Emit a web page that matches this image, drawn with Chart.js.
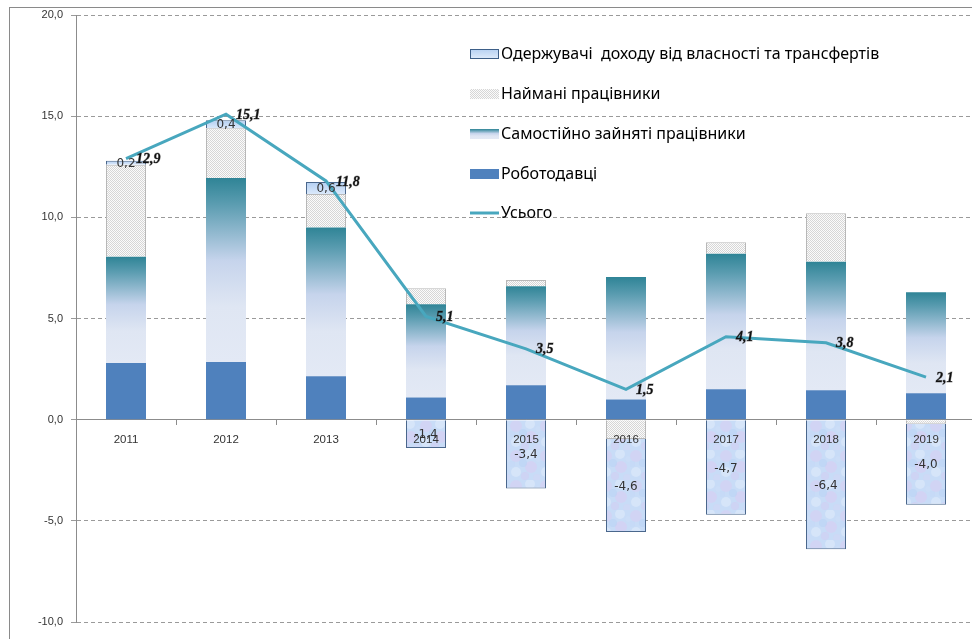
<!DOCTYPE html>
<html>
<head>
<meta charset="utf-8">
<script src="https://cdn.jsdelivr.net/npm/chart.js@4.4.1/dist/chart.umd.min.js"></script>
<style>
  html, body { margin: 0; padding: 0; background: #fff; overflow: hidden; }
  #wrap { position: relative; width: 972px; height: 639px; overflow: hidden; }
  #frame { position: absolute; left: 9px; top: 7px; width: 1000px; height: 700px; border: 1px solid #8a8a8a; pointer-events: none; }
  canvas { position: absolute; left: 0; top: 0; }
</style>
</head>
<body>
<div id="wrap">
  <canvas id="c" width="978" height="639"></canvas>
  <div id="frame"></div>
</div>
<script>
const years = ["2011", "2012", "2013", "2014", "2015", "2016", "2017", "2018", "2019"];
const employers = [2.8, 2.85, 2.15, 1.1, 1.7, 1.0, 1.5, 1.45, 1.3];
const selfEmployed = [5.25, 9.1, 7.35, 4.6, 4.9, 6.05, 6.7, 6.35, 5.0];
const hired = [4.55, 2.45, 1.65, 0.8, 0.3, -0.95, 0.57, 2.4, -0.2];
const propertyIncome = [0.2, 0.4, 0.6, -1.4, -3.4, -4.6, -4.7, -6.4, -4.0];
const total = [12.9, 15.1, 11.8, 5.1, 3.5, 1.5, 4.1, 3.8, 2.1];

const legendLabels = [
  "Одержувачі  доходу від власності та трансфертів",
  "Наймані працівники",
  "Самостійно зайняті працівники",
  "Роботодавці",
  "Усього",
];

const fmt = (v) => v.toFixed(1).replace(".", ",");

// dotted fill for hired workers
function makeHatch() {
  const c = document.createElement("canvas");
  c.width = 2;
  c.height = 2;
  const g = c.getContext("2d");
  g.fillStyle = "#fbfbfb";
  g.fillRect(0, 0, 2, 2);
  g.fillStyle = "#d6d6d6";
  g.fillRect(0, 0, 1, 1);
  g.fillRect(1, 1, 1, 1);
  return g.createPattern(c, "repeat");
}

// mottled light-blue texture for negative property bars
function makeBubbles() {
  const c = document.createElement("canvas");
  c.width = 30;
  c.height = 30;
  const g = c.getContext("2d");
  g.fillStyle = "#c8dcf7";
  g.fillRect(0, 0, 30, 30);
  const blobs = [
    [6, 6, 6, "rgba(216,206,242,0.55)"], [21, 17, 6, "rgba(218,204,242,0.55)"],
    [20, 4, 5, "rgba(226,236,252,0.55)"], [6, 22, 5, "rgba(226,236,252,0.55)"],
    [13, 13, 4, "rgba(184,210,245,0.5)"], [27, 28, 4, "rgba(212,214,245,0.5)"],
    [2, 14, 3, "rgba(196,216,247,0.5)"], [15, 26, 4, "rgba(212,204,242,0.5)"],
    [28, 9, 3, "rgba(206,222,248,0.5)"],
  ];
  blobs.forEach(([x, y, r, col]) => {
    g.fillStyle = col;
    g.beginPath();
    g.arc(x, y, r, 0, Math.PI * 2);
    g.fill();
  });
  return g.createPattern(c, "repeat");
}

const hatch = makeHatch();
const bubbles = makeBubbles();

function selfGradient(ctx2d, top, bottom) {
  const g = ctx2d.createLinearGradient(0, top, 0, bottom);
  g.addColorStop(0, "#2f8496");
  g.addColorStop(0.14, "#5a9cb0");
  g.addColorStop(0.45, "#c6d4ec");
  g.addColorStop(0.7, "#dfe6f3");
  g.addColorStop(1, "#e3e9f5");
  return g;
}

const labelPlugin = {
  id: "valueLabels",
  afterDatasetsDraw(chart) {
    const ctx = chart.ctx;
    ctx.save();
    const pm = chart.getDatasetMeta(3);
    ctx.font = '12px "DejaVu Sans", Verdana, sans-serif';
    ctx.fillStyle = "#333";
    ctx.textAlign = "center";
    ctx.textBaseline = "middle";
    pm.data.forEach((bar, i) => {
      ctx.fillText(fmt(propertyIncome[i]), bar.x, (bar.y + bar.base) / 2 + 1);
    });

    const lm = chart.getDatasetMeta(4);
    ctx.font = 'italic bold 14px "Liberation Serif", serif';
    ctx.fillStyle = "#111";
    ctx.strokeStyle = "rgba(60,60,60,0.5)";
    ctx.lineWidth = 0.8;
    ctx.textAlign = "left";
    lm.data.forEach((pt, i) => {
      ctx.strokeText(fmt(total[i]), pt.x + 10, pt.y + 1);
      ctx.fillText(fmt(total[i]), pt.x + 10, pt.y + 1);
    });
    ctx.restore();
  },
};

const legendPlugin = {
  id: "sideLegend",
  afterDraw(chart) {
    const ctx = chart.ctx;
    const ix = 470, iw = 29, ih = 10, tx = 501;
    const rows = [54, 94, 134, 174, 213];
    ctx.save();
    ctx.font = '16px "Noto Sans", sans-serif';
    ctx.textBaseline = "middle";
    rows.forEach((y, k) => {
      const top = y - ih / 2;
      if (k === 0) {
        const g = ctx.createLinearGradient(0, top, 0, top + ih);
        g.addColorStop(0, "#b5d0f2");
        g.addColorStop(1, "#e0ecfb");
        ctx.fillStyle = g;
        ctx.fillRect(ix, top, iw, ih);
        ctx.strokeStyle = "#3d5f88";
        ctx.lineWidth = 1;
        ctx.strokeRect(ix + 0.5, top + 0.5, iw - 1, ih - 1);
      } else if (k === 1) {
        ctx.fillStyle = hatch;
        ctx.fillRect(ix, top, iw, ih);
      } else if (k === 2) {
        ctx.fillStyle = selfGradient(ctx, top, top + ih);
        ctx.fillRect(ix, top, iw, ih);
      } else if (k === 3) {
        ctx.fillStyle = "#4f81bd";
        ctx.fillRect(ix, top, iw, ih);
      } else {
        ctx.strokeStyle = "#48a7be";
        ctx.lineWidth = 3;
        ctx.beginPath();
        ctx.moveTo(ix, y);
        ctx.lineTo(ix + iw, y);
        ctx.stroke();
      }
      ctx.fillStyle = "#000";
      ctx.fillText(legendLabels[k], tx, y);
    });
    ctx.restore();
  },
};

new Chart(document.getElementById("c"), {
  type: "bar",
  data: {
    labels: years,
    datasets: [
      {
        label: "Роботодавці",
        data: employers,
        backgroundColor: "#4f81bd",
        order: 1,
      },
      {
        label: "Самостійно зайняті працівники",
        data: selfEmployed,
        order: 1,
        backgroundColor: (c) => {
          const chart = c.chart;
          if (!chart.chartArea || c.dataIndex === undefined) return "#9bb7d4";
          const y = chart.scales.y;
          const i = c.dataIndex;
          return selfGradient(
            chart.ctx,
            y.getPixelForValue(employers[i] + selfEmployed[i]),
            y.getPixelForValue(employers[i]),
          );
        },
      },
      {
        label: "Наймані працівники",
        data: hired,
        order: 1,
        backgroundColor: hatch,
        borderColor: "#b8b8b8",
        borderWidth: 1,
      },
      {
        label: "Одержувачі доходу від власності та трансфертів",
        data: propertyIncome,
        order: 1,
        borderColor: "#4a678c",
        borderWidth: 1,
        backgroundColor: (c) => {
          const chart = c.chart;
          if (!chart.chartArea || c.dataIndex === undefined) return "#cadcf7";
          const i = c.dataIndex;
          if (propertyIncome[i] < 0) return bubbles;
          const y = chart.scales.y;
          const base = employers[i] + selfEmployed[i] + Math.max(hired[i], 0);
          const g = chart.ctx.createLinearGradient(
            0, y.getPixelForValue(base + propertyIncome[i]), 0, y.getPixelForValue(base),
          );
          g.addColorStop(0, "#b3cff2");
          g.addColorStop(1, "#dbe9fb");
          return g;
        },
      },
      {
        type: "line",
        label: "Усього",
        data: total,
        order: 0,
        borderColor: "#48a7be",
        borderWidth: 3,
        pointRadius: 0,
        tension: 0,
        stack: "line",
      },
    ],
  },
  options: {
    responsive: false,
    animation: false,
    devicePixelRatio: 1,
    layout: { padding: { left: 0, top: 15, right: 2, bottom: 17 } },
    datasets: { bar: { barPercentage: 0.4, categoryPercentage: 1 } },
    plugins: {
      legend: { display: false },
      tooltip: { enabled: false },
    },
    scales: {
      x: {
        stacked: true,
        position: { y: 0 },
        offset: true,
        grid: { drawOnChartArea: false, tickLength: 5, color: "#8c8c8c", offset: true },
        border: { color: "#8c8c8c" },
        ticks: {
          z: 1,
          padding: 8,
          color: "#333",
          font: { size: 11.5, family: '"Liberation Sans", Arial, sans-serif' },
        },
      },
      y: {
        stacked: true,
        min: -10,
        max: 20,
        afterFit: (s) => { s.width = 76; },
        grid: { color: "#9a9a9a", tickLength: 5 },
        border: { color: "#8c8c8c", dash: [4, 3] },
        ticks: {
          stepSize: 5,
          padding: 8,
          color: "#333",
          font: { size: 11, family: '"Liberation Sans", Arial, sans-serif' },
          callback: (v) => fmt(v),
        },
      },
    },
  },
  plugins: [labelPlugin, legendPlugin],
});
</script>
</body>
</html>
